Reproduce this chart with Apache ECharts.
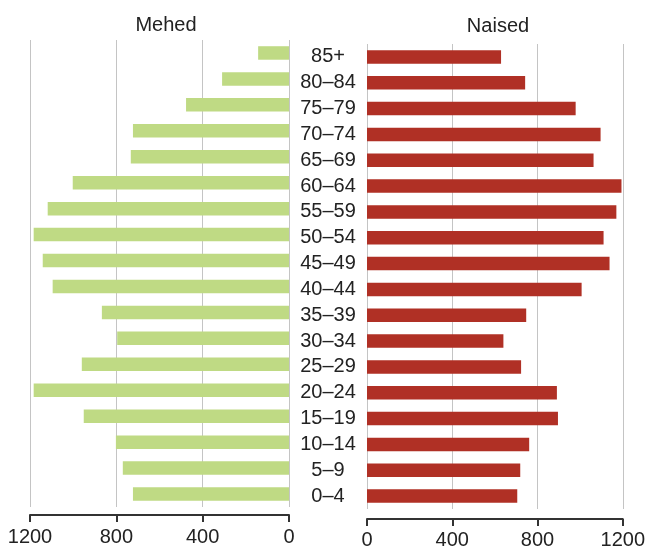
<!DOCTYPE html>
<html>
<head>
<meta charset="utf-8">
<script src="https://cdn.jsdelivr.net/npm/echarts@6/dist/echarts.min.js"></script>
<style>html,body{margin:0;padding:0;background:#fff}#c{width:648px;height:550px}</style>
</head>
<body>
<div id="c"></div>
<script>
const categories = ['0–4','5–9','10–14','15–19','20–24','25–29','30–34','35–39','40–44','45–49','50–54','55–59','60–64','65–69','70–74','75–79','80–84','85+'];
const men = [723, 770, 802, 951, 1183, 960, 796, 867, 1095, 1141, 1183, 1118, 1002, 733, 723, 477, 310, 143];
const women = [705, 719, 761, 896, 891, 723, 640, 747, 1007, 1138, 1110, 1170, 1194, 1063, 1096, 979, 742, 629];
const panelTitles = ['Mehed', 'Naised'];
const xTicks = { min: 0, max: 1200, interval: 400 };

const FONT = '"Liberation Sans", Arial, Helvetica, sans-serif';
const AXIS_COLOR = '#333';
const chart = echarts.init(document.getElementById('c'));

function xAxisCfg(gridIndex, inverse, offset, margin) {
  return {
    type: 'value', gridIndex: gridIndex, inverse: inverse,
    min: xTicks.min, max: xTicks.max, interval: xTicks.interval,
    offset: offset,
    axisLine: { show: true, onZero: false, lineStyle: { color: AXIS_COLOR, width: 2 } },
    axisTick: { show: true, length: 7, lineStyle: { color: AXIS_COLOR, width: 2 } },
    axisLabel: { color: '#222', fontSize: 20, fontFamily: FONT, margin: margin,
      formatter: function (v) { return String(v); } },
    splitLine: { show: true, lineStyle: { color: '#c4c4c4', width: 1 } }
  };
}

chart.setOption({
  animation: false,
  title: [
    { text: panelTitles[0], left: 161, top: 10, textAlign: 'center',
      textStyle: { fontSize: 20, fontWeight: 'normal', color: '#222', fontFamily: FONT } },
    { text: panelTitles[1], left: 493, top: 11, textAlign: 'center',
      textStyle: { fontSize: 20, fontWeight: 'normal', color: '#222', fontFamily: FONT } }
  ],
  grid: [
    { left: 30, width: 259, top: 40, height: 467 },
    { left: 367, width: 257, top: 44, height: 466 }
  ],
  xAxis: [
    xAxisCfg(0, true, 8, 12),
    xAxisCfg(1, false, 10, 11)
  ],
  yAxis: [
    { type: 'category', gridIndex: 0, data: categories,
      axisLine: { show: false }, axisTick: { show: false }, axisLabel: { show: false } },
    { type: 'category', gridIndex: 1, data: categories,
      axisLine: { show: false }, axisTick: { show: false },
      axisLabel: { interval: 0, color: '#222', fontSize: 20, fontFamily: FONT, margin: 39, align: 'center' } }
  ],
  series: [
    { type: 'bar', xAxisIndex: 0, yAxisIndex: 0, data: men, barWidth: 13.5,
      itemStyle: { color: '#bfda84' } },
    { type: 'bar', xAxisIndex: 1, yAxisIndex: 1, data: women, barWidth: 13.5,
      itemStyle: { color: '#b03025' } }
  ]
});
</script>
</body>
</html>
